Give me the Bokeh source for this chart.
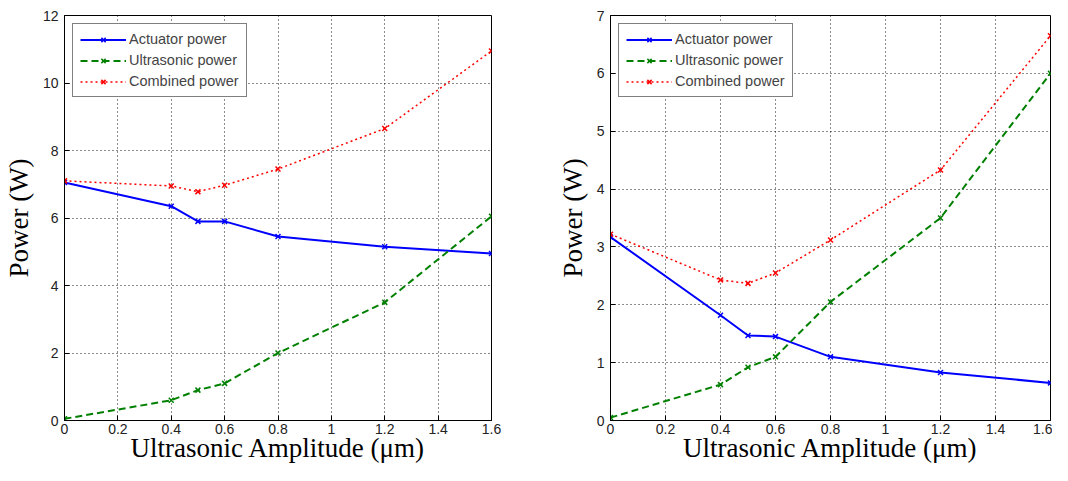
from bokeh.plotting import figure
from bokeh.layouts import row
from bokeh.models import Range1d, FixedTicker, Legend
from bokeh.embed import file_html
from bokeh.resources import INLINE

amplitude = [0, 0.4, 0.5, 0.6, 0.8, 1.2, 1.6]

left_actuator = [7.05, 6.35, 5.9, 5.9, 5.45, 5.15, 4.95]
left_ultrasonic = [0.05, 0.6, 0.9, 1.1, 2.0, 3.5, 6.05]
left_combined = [7.1, 6.95, 6.78, 6.97, 7.45, 8.65, 10.95]

right_actuator = [3.17, 1.82, 1.47, 1.45, 1.1, 0.83, 0.65]
right_ultrasonic = [0.05, 0.62, 0.92, 1.1, 2.05, 3.5, 6.0]
right_combined = [3.22, 2.43, 2.37, 2.55, 3.12, 4.33, 6.65]

x_ticks = [0, 0.2, 0.4, 0.6, 0.8, 1.0, 1.2, 1.4, 1.6]
x_tick_labels = {0: "0", 0.2: "0.2", 0.4: "0.4", 0.6: "0.6", 0.8: "0.8", 1.0: "1", 1.2: "1.2", 1.4: "1.4", 1.6: "1.6"}
left_y_ticks = [0, 2, 4, 6, 8, 10, 12]
right_y_ticks = [0, 1, 2, 3, 4, 5, 6, 7]

series_names = ["Actuator power", "Ultrasonic power", "Combined power"]
x_label = "Ultrasonic Amplitude (\u03bcm)"
y_label = "Power (W)"


def make_plot(actuator, ultrasonic, combined, y_max, y_ticks, width, bl, br, bt, bb):
    p = figure(width=width, height=465, output_backend="svg", toolbar_location=None,
               x_range=Range1d(0, 1.6), y_range=Range1d(0, y_max),
               min_border_left=bl, min_border_right=br, min_border_top=bt, min_border_bottom=bb)
    p.background_fill_color = "white"
    p.border_fill_color = "white"
    p.outline_line_color = "black"
    p.outline_line_width = 1

    for ax, ticks in ((p.xaxis, x_ticks), (p.yaxis, y_ticks)):
        ax.ticker = FixedTicker(ticks=ticks)
        ax.major_tick_in = 5
        ax.major_tick_out = 0
        ax.minor_tick_line_color = None
        ax.axis_line_color = "black"
        ax.major_tick_line_color = "black"
        ax.major_label_text_font = "Liberation Sans"
        ax.major_label_text_font_size = "14px"
        ax.major_label_text_color = "#222222"
        ax.axis_label_text_font = "Liberation Serif"
        ax.axis_label_text_font_size = "27px"
        ax.axis_label_text_font_style = "normal"
        ax.axis_label_text_color = "black"
    p.xaxis.major_label_overrides = x_tick_labels
    p.xaxis.axis_label = x_label
    p.yaxis.axis_label = y_label
    p.xaxis.major_label_standoff = 3
    p.xaxis.axis_label_standoff = -4
    p.yaxis.major_label_standoff = 6
    p.yaxis.axis_label_standoff = 6

    p.grid.grid_line_color = "black"
    p.grid.grid_line_dash = "1 3"
    p.grid.grid_line_width = 1
    p.grid.grid_line_alpha = 0.9
    p.xgrid.ticker = FixedTicker(ticks=x_ticks)
    p.ygrid.ticker = FixedTicker(ticks=y_ticks)

    specs = [
        (actuator, "#0000ff", "solid", 2),
        (ultrasonic, "#008000", "7 4", 2),
        (combined, "#ff0000", "2 3", 1.5),
    ]
    items = []
    for (vals, color, dash, lw), name in zip(specs, series_names):
        r1 = p.line(amplitude, vals, line_color=color, line_dash=dash, line_width=lw)
        r2 = p.scatter(amplitude, vals, marker="x", size=7, line_color=color, line_width=1.5)
        items.append((name, [r1, r2]))

    legend = Legend(items=items, location="top_left")
    legend.border_line_color = "black"
    legend.border_line_width = 1
    legend.background_fill_color = "white"
    legend.background_fill_alpha = 1
    legend.label_text_font = "Liberation Sans"
    legend.label_text_font_size = "14.5px"
    legend.label_height = 15
    legend.glyph_height = 15
    legend.glyph_width = 46
    legend.spacing = 5
    legend.padding = 7
    legend.margin = 8
    legend.label_standoff = 3
    p.add_layout(legend)
    return p


p1 = make_plot(left_actuator, left_ultrasonic, left_combined, 12, left_y_ticks, 540, 62, 49, 15, 42)
p2 = make_plot(right_actuator, right_ultrasonic, right_combined, 7, right_y_ticks, 512, 70, 2, 12, 42)

layout = row(p1, p2)
open("out.html", "w").write(file_html(layout, INLINE))
